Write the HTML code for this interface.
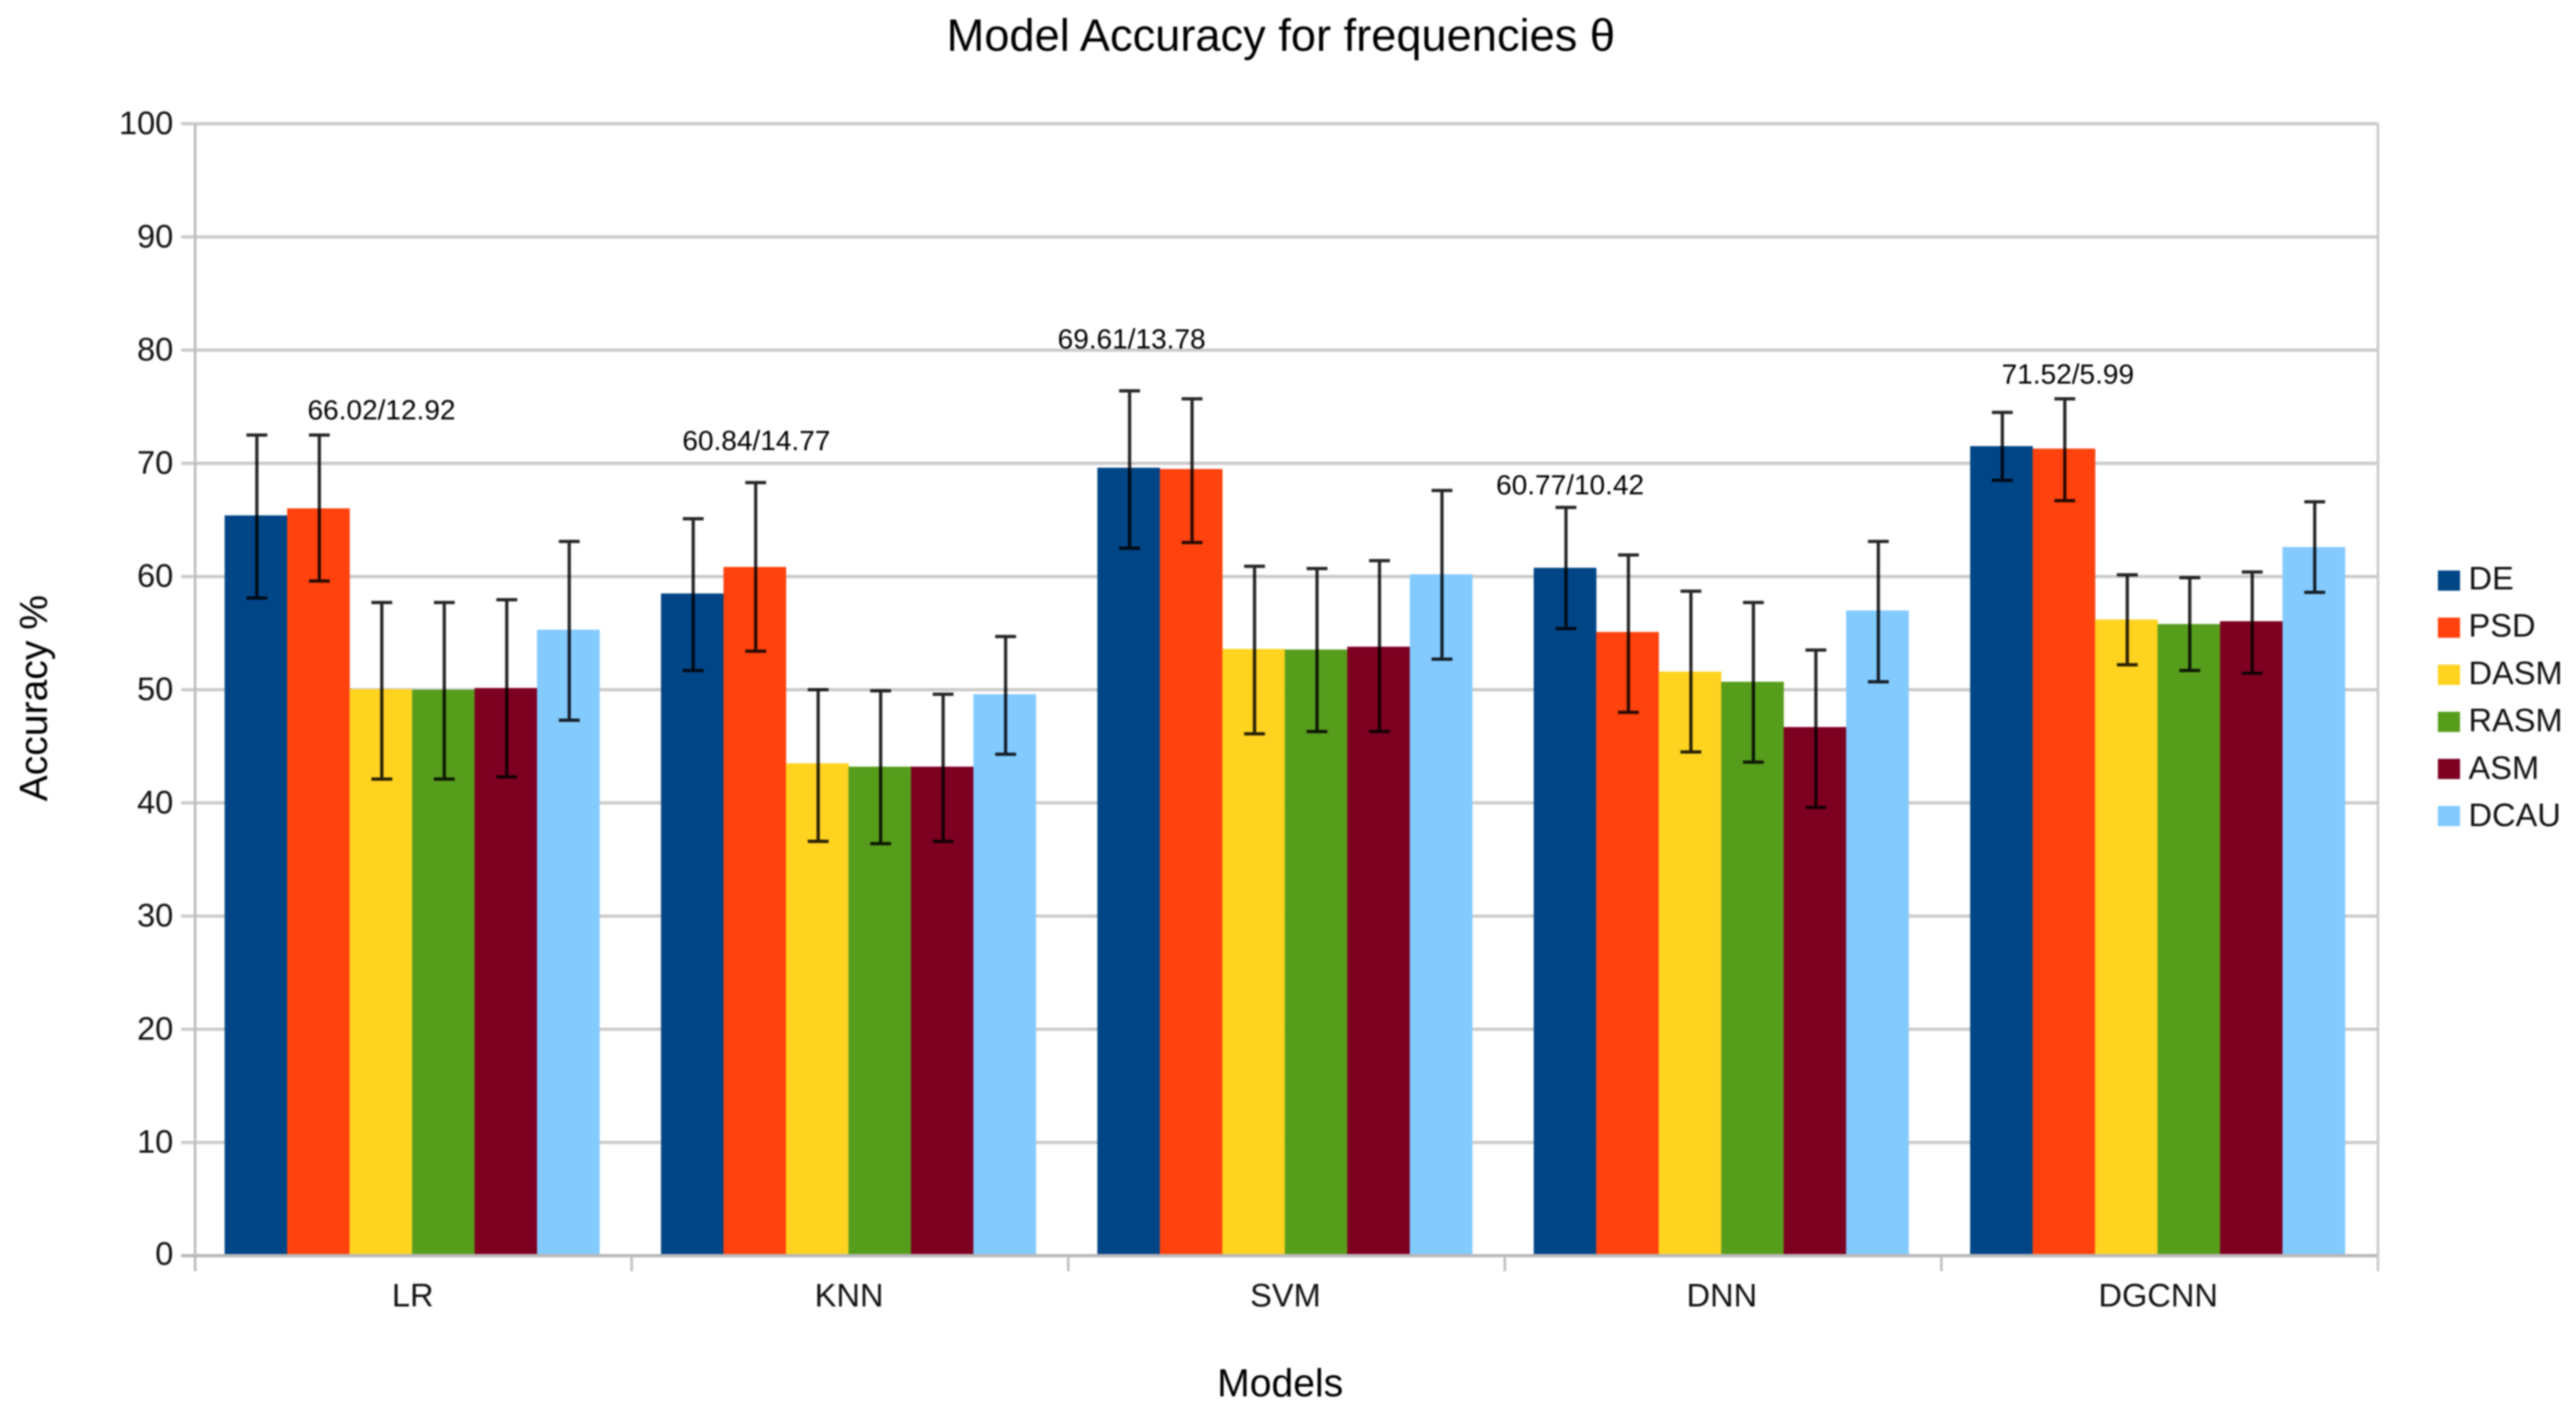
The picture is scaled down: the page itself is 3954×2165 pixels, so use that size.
<!DOCTYPE html>
<html>
<head>
<meta charset="utf-8">
<title>Model Accuracy for frequencies θ</title>
<style>
html,body{margin:0;padding:0;background:#fff;width:3954px;height:2165px;overflow:hidden}
svg{display:block;filter:blur(1.3px)}
text{font-family:"Liberation Sans",sans-serif}
</style>
</head>
<body>
<svg id="chart" xmlns="http://www.w3.org/2000/svg" width="3954" height="2165" viewBox="0 0 3954 2165">
  <rect x="0" y="0" width="3954" height="2165" fill="#ffffff"/>
  <g id="grid"></g>
  <g id="bars"></g>
  <g id="errs"></g>
  <g id="axes"></g>
  <g id="legend"></g>
  <text x="1966" y="78" font-size="69.4" text-anchor="middle" fill="#000">Model Accuracy for frequencies θ</text>
  <text x="1965" y="2144" font-size="60" text-anchor="middle" fill="#000">Models</text>
  <text transform="translate(72 1072) rotate(-90)" font-size="60" text-anchor="middle" fill="#000">Accuracy %</text>
  <text x="585.6" y="644" font-size="43" text-anchor="middle" fill="#000">66.02/12.92</text>
  <text x="1161" y="691" font-size="43" text-anchor="middle" fill="#000">60.84/14.77</text>
  <text x="1737" y="535" font-size="43" text-anchor="middle" fill="#000">69.61/13.78</text>
  <text x="2410" y="759" font-size="43" text-anchor="middle" fill="#000">60.77/10.42</text>
  <text x="3174" y="589" font-size="43" text-anchor="middle" fill="#000">71.52/5.99</text>
</svg>
<script>
const categories = ['LR', 'KNN', 'SVM', 'DNN', 'DGCNN'];
const seriesNames = ['DE', 'PSD', 'DASM', 'RASM', 'ASM', 'DCAU'];
const yTickLabels = [0, 10, 20, 30, 40, 50, 60, 70, 80, 90, 100];

const deMeans = [65.4, 58.5, 69.61, 60.77, 71.52];
const deHigh = [72.5, 65.1, 76.4, 66.1, 74.5];
const deLow = [58.1, 51.7, 62.5, 55.4, 68.5];

const psdMeans = [66.02, 60.84, 69.5, 55.1, 71.3];
const psdHigh = [72.5, 68.3, 75.7, 61.9, 75.7];
const psdLow = [59.6, 53.4, 63.0, 48.0, 66.7];

const dasmMeans = [50.05, 43.5, 53.6, 51.6, 56.2];
const dasmHigh = [57.7, 50.0, 60.9, 58.7, 60.15];
const dasmLow = [42.1, 36.6, 46.1, 44.5, 52.2];

const rasmMeans = [50.0, 43.2, 53.55, 50.7, 55.8];
const rasmHigh = [57.7, 49.9, 60.7, 57.7, 59.9];
const rasmLow = [42.1, 36.4, 46.3, 43.6, 51.7];

const asmMeans = [50.15, 43.2, 53.8, 46.7, 56.05];
const asmHigh = [57.95, 49.6, 61.4, 53.5, 60.4];
const asmLow = [42.3, 36.6, 46.3, 39.6, 51.45];

const dcauMeans = [55.3, 49.6, 60.2, 57.0, 62.6];
const dcauHigh = [63.1, 54.7, 67.6, 63.1, 66.6];
const dcauLow = [47.3, 44.3, 52.7, 50.7, 58.6];

const allMeans = [deMeans, psdMeans, dasmMeans, rasmMeans, asmMeans, dcauMeans];
const allHigh = [deHigh, psdHigh, dasmHigh, rasmHigh, asmHigh, dcauHigh];
const allLow = [deLow, psdLow, dasmLow, rasmLow, asmLow, dcauLow];
const seriesColors = ['#004586', '#ff420e', '#ffd320', '#579d1c', '#7e0021', '#83caff'];

const NS = 'http://www.w3.org/2000/svg';
const PLOT_LEFT = 299.5, PLOT_RIGHT = 3650, TICK_LEFT = 278, TICK_BOTTOM = 1952;
const Y_ZERO = 1928, Y_TOP = 190, Y_MAX = 100;
const CAT_FIRST_CENTER = 632.5, CAT_STEP = 669.8, BAR_W = 95.9;

function yScale(v) { return Y_ZERO - (v / Y_MAX) * (Y_ZERO - Y_TOP); }
function catCenter(i) { return CAT_FIRST_CENTER + CAT_STEP * i; }
function barLeft(i, s) { return catCenter(i) - (BAR_W * seriesNames.length) / 2 + BAR_W * s; }
function tickX(i) { return PLOT_LEFT + ((PLOT_RIGHT - PLOT_LEFT) / categories.length) * i; }

function mk(tag, attrs, parent, txt) {
  const e = document.createElementNS(NS, tag);
  for (const k in attrs) e.setAttribute(k, attrs[k]);
  if (txt !== undefined) e.textContent = txt;
  parent.appendChild(e);
  return e;
}
const gGrid = document.getElementById('grid');
const gBars = document.getElementById('bars');
const gErrs = document.getElementById('errs');
const gAxes = document.getElementById('axes');
const gLegend = document.getElementById('legend');

yTickLabels.forEach(function (t) {
  const yy = yScale(t);
  const line = mk('line', { x1: TICK_LEFT, x2: PLOT_RIGHT, y1: yy, y2: yy, stroke: t === 0 ? '#b8b8b8' : '#cbcbcb', 'stroke-width': 5 }, t === 0 ? gAxes : gGrid);
  
  
  const lab = mk('text', { x: 266, y: yy + (t === 0 ? 14 : 16), 'font-size': 50, 'text-anchor': 'end', fill: '#111' }, gAxes, String(t));
  
  
});

categories.forEach(function (c, i) {
  seriesNames.forEach(function (sn, s) {
    const top = yScale(allMeans[s][i]);
    const bar = mk('rect', { x: barLeft(i, s), y: top, width: BAR_W + 0.3, height: Y_ZERO - top, fill: seriesColors[s] }, gBars);
    
    

    const ex = barLeft(i, s) + BAR_W / 2 + 1.5;
    const hi = yScale(allHigh[s][i]);
    const lo = yScale(allLow[s][i]);
    const err = mk('path', {
      d: 'M' + ex + ' ' + hi + 'V' + lo + 'M' + (ex - 16) + ' ' + hi + 'H' + (ex + 16) + 'M' + (ex - 16) + ' ' + lo + 'H' + (ex + 16),
      stroke: '#000', 'stroke-opacity': 0.85, 'stroke-width': 5, fill: 'none'
    }, gErrs);
    
    
  });
  const lab = mk('text', { x: catCenter(i) + 1, y: 2006, 'font-size': 50, 'text-anchor': 'middle', fill: '#111' }, gAxes, c);
  
  
});

for (let i = 0; i <= categories.length; i++) {
  const tx = tickX(i);
  const tick = mk('line', { x1: tx, x2: tx, y1: Y_ZERO, y2: TICK_BOTTOM, stroke: '#c0c0c0', 'stroke-width': 4 }, gAxes);
  
  
}
const axisL = mk('line', { x1: PLOT_LEFT, x2: PLOT_LEFT, y1: Y_TOP, y2: TICK_BOTTOM, stroke: '#bdbdbd', 'stroke-width': 4 }, gAxes);


const axisR = mk('line', { x1: PLOT_RIGHT, x2: PLOT_RIGHT, y1: Y_TOP, y2: TICK_BOTTOM, stroke: '#cbcbcb', 'stroke-width': 4 }, gAxes);



seriesNames.forEach(function (sn, s) {
  const rowY = 876 + 72.3 * s;
  const entry = mk('g', {}, gLegend);
  
  
  const sw = mk('rect', { x: 3742, y: rowY, width: 34, height: 31, fill: seriesColors[s] }, entry);
  
  
  const tx = mk('text', { x: 3789, y: rowY + 31 - (5 - s) * 0.4, 'font-size': 50, fill: '#111' }, entry, sn);
  
  
});
</script>
</body>
</html>
